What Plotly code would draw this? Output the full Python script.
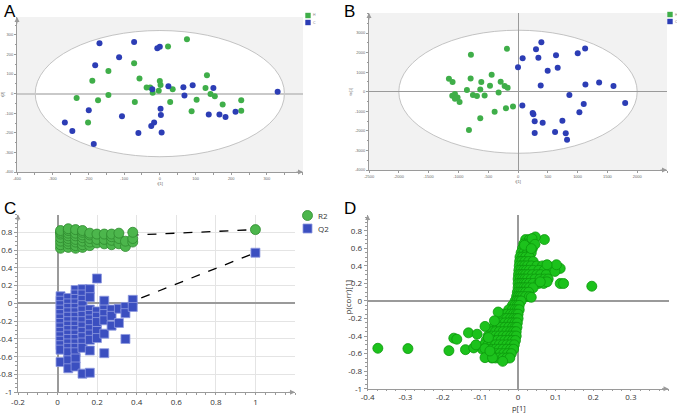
import plotly.graph_objects as go

W, H = 677, 414

# ---------------- Panel A (PCA-like score plot) ----------------
a_green_x = [76, 23, -72, -144, -57, -189, 132, 0, 2, -37, -27, -3, -20, 36, 128, 142, 154, 103, 29, -233, -173, -144, -70, 176, 228, 228, 89, -201]
a_green_y = [278, 240, 155, 116, 77, 66, 94, 65, 44, 31, 31, 15, 5, 22, 29, -2, -14, -31, -43, -22, -34, -7, -43, -56, -34, -87, -90, -148]
a_blue_x = [-169, -72, -7, 0, -114, -181, -21, 24, 66, 92, 150, 69, 330, 2, 3, -199, -106, 137, 167, 184, 212, -266, -245, -16, -24, -60, 5, -185]
a_blue_y = [257, 264, 232, 239, 186, 145, 22, 37, 32, 43, 29, -10, 9, -77, -109, -85, -116, -107, -107, -119, -92, -148, -191, -148, -165, -201, -198, -257]
a_ellipse = [349, 322]
a_xticks = [-400, -300, -200, -100, 0, 100, 200, 300]
a_yticks = [-400, -300, -200, -100, 0, 100, 200, 300]

# ---------------- Panel B (OPLS-DA score plot) ----------------
b_green_x = [-185, -790, -442, -1159, -1098, -795, -616, -291, -470, -224, -174, -633, -857, -325, -1058, -1103, -1014, -1058, -980, -756, -689, -560, -84, -202, -392, -633, -823]
b_green_y = [2193, 1887, 867, 663, 493, 680, 493, 510, 306, 289, 204, 119, 85, -34, -119, -204, -289, -357, -527, -170, -221, -187, -748, -850, -1020, -1360, -1955]
b_blue_x = [392, 302, 1126, 1002, 78, 342, 638, 0, 498, 666, 381, 1131, 1361, 1602, 862, 1798, 1103, 1030, 73, 246, 258, 280, 414, 745, 280, 622, 801, 823]
b_blue_y = [2533, 2176, 2210, 1972, 1717, 1734, 1870, 1258, 1071, 1224, 323, 374, 476, 289, -170, -578, -629, -1054, -697, -1088, -1156, -1513, -1581, -1479, -2108, -2057, -2125, -2448]
b_ellipse = [2000, 3145]
b_xticks = [-2500, -2000, -1500, -1000, -500, 0, 500, 1000, 1500, 2000]
b_yticks = [-4000, -3000, -2000, -1000, 0, 1000, 2000, 3000]

group_labels = ["H", "C"]

# ---------------- Panel C (permutation test) ----------------
perm_cols = [0.015, 0.054, 0.091, 0.126, 0.163, 0.199, 0.236, 0.273, 0.310, 0.343, 0.380]
r2_by_col = [
    [0.62, 0.66, 0.70, 0.74, 0.78, 0.80, 0.82],
    [0.63, 0.67, 0.70, 0.73, 0.76, 0.79, 0.82, 0.84],
    [0.62, 0.65, 0.69, 0.72, 0.76, 0.79, 0.83],
    [0.63, 0.66, 0.70, 0.74, 0.77, 0.80, 0.82],
    [0.65, 0.69, 0.73, 0.77, 0.79],
    [0.68, 0.72, 0.78],
    [0.67, 0.72, 0.78],
    [0.66, 0.71, 0.75, 0.78],
    [0.67, 0.73, 0.79],
    [0.64, 0.70],
    [0.69, 0.73, 0.80],
]
q2_by_col = [
    [0.08, 0.03, -0.02, -0.07, -0.12, -0.17, -0.22, -0.27, -0.32, -0.37, -0.42, -0.47, -0.52, -0.66],
    [0.06, 0.0, -0.05, -0.10, -0.15, -0.20, -0.25, -0.30, -0.35, -0.40, -0.45, -0.50, -0.55, -0.64, -0.73],
    [0.15, 0.10, 0.05, 0.0, -0.05, -0.10, -0.15, -0.20, -0.25, -0.30, -0.35, -0.40, -0.45, -0.50, -0.55, -0.62, -0.71],
    [0.16, 0.10, 0.04, -0.02, -0.08, -0.14, -0.20, -0.26, -0.32, -0.38, -0.44, -0.50, -0.79],
    [0.16, 0.07, -0.07, -0.13, -0.18, -0.23, -0.29, -0.35, -0.41, -0.53, -0.78],
    [0.28, -0.09, -0.15, -0.21, -0.31, -0.39],
    [0.03, -0.07, -0.12, -0.19, -0.34, -0.56],
    [-0.07, -0.14, -0.25],
    [-0.06, -0.22],
    [-0.04, -0.11, -0.40],
    [0.04, -0.04],
]
orig_x = 1.0
orig_r2 = 0.83
orig_q2 = 0.57
r2_intercept = 0.73
q2_intercept = -0.31
c_xticks = [-0.2, 0, 0.2, 0.4, 0.6, 0.8, 1]
c_yticks = [-1, -0.8, -0.6, -0.4, -0.2, 0, 0.2, 0.4, 0.6, 0.8]
c_legend = ["R2", "Q2"]

# ---------------- Panel D (S-plot) ----------------
d_outlier_x = [-0.373, -0.293, -0.184, -0.171, -0.163, -0.140, -0.132, -0.109, -0.118, -0.112, -0.088, -0.088, -0.088, -0.079, -0.053, -0.063, -0.041, -0.068, -0.075,
               0.196, 0.112, 0.121, 0.112, 0.098, 0.070, 0.046, 0.037, 0.045, 0.017, 0.102, 0.077, 0.077, 0.059, 0.035, 0.035]
d_outlier_y = [-0.539, -0.543, -0.566, -0.424, -0.436, -0.555, -0.363, -0.379, -0.535, -0.50, -0.29, -0.543, -0.646, -0.417, -0.126, -0.226, -0.688, -0.646, -0.57,
               0.168, 0.199, 0.199, 0.371, 0.337, 0.70, 0.73, 0.711, 0.646, 0.635, 0.413, 0.413, 0.218, 0.218, 0.042, 0.597]
d_body_y = [0.70, 0.65, 0.60, 0.55, 0.50, 0.45, 0.40, 0.35, 0.30, 0.25, 0.20, 0.15, 0.10, 0.05, 0.0,
            -0.05, -0.10, -0.15, -0.20, -0.25, -0.30, -0.35, -0.40, -0.45, -0.50, -0.55, -0.60, -0.65]
d_body_x = [
    [0.02, 0.03],
    [0.015, 0.025, 0.035],
    [0.012, 0.02, 0.03, 0.038],
    [0.008, 0.015, 0.025, 0.035],
    [0.005, 0.012, 0.02, 0.03],
    [0.004, 0.01, 0.018, 0.028, 0.04],
    [0.003, 0.01, 0.017, 0.025, 0.035, 0.05, 0.065, 0.08],
    [0.002, 0.008, 0.015, 0.022, 0.03, 0.04, 0.055, 0.07, 0.085],
    [0.001, 0.007, 0.013, 0.02, 0.028, 0.038, 0.05, 0.06, 0.075],
    [0.0, 0.006, 0.012, 0.018, 0.025, 0.035, 0.045, 0.058, 0.07, 0.08],
    [0.0, 0.005, 0.01, 0.016, 0.022, 0.03, 0.04, 0.055, 0.068],
    [0.0, 0.004, 0.009, 0.015, 0.022, 0.03, 0.04],
    [-0.002, 0.003, 0.008, 0.013, 0.02, 0.028],
    [-0.004, 0.001, 0.006, 0.012, 0.02, 0.03],
    [-0.008, -0.003, 0.002, 0.008],
    [-0.015, -0.008, -0.002, 0.003],
    [-0.025, -0.015, -0.008, -0.002, 0.003],
    [-0.04, -0.03, -0.02, -0.012, -0.005, 0.0],
    [-0.05, -0.04, -0.03, -0.02, -0.012, -0.005, 0.0],
    [-0.055, -0.045, -0.035, -0.025, -0.016, -0.008, -0.002],
    [-0.065, -0.055, -0.045, -0.035, -0.025, -0.015, -0.008, -0.003],
    [-0.07, -0.06, -0.05, -0.04, -0.03, -0.02, -0.012, -0.005],
    [-0.08, -0.07, -0.06, -0.05, -0.04, -0.03, -0.02, -0.012, -0.005],
    [-0.085, -0.075, -0.065, -0.055, -0.045, -0.035, -0.025, -0.015, -0.007],
    [-0.09, -0.08, -0.07, -0.06, -0.05, -0.04, -0.03, -0.02, -0.01],
    [-0.095, -0.085, -0.072, -0.06, -0.05, -0.04, -0.03, -0.02, -0.012],
    [-0.08, -0.07, -0.058, -0.048, -0.038, -0.028, -0.018],
    [-0.07, -0.06, -0.05, -0.04, -0.03, -0.022],
]
d_xticks = [-0.4, -0.3, -0.2, -0.1, 0, 0.1, 0.2, 0.3]
d_yticks = [-1, -0.8, -0.6, -0.4, -0.2, 0, 0.2, 0.4, 0.6, 0.8]

# ------------------------------------------------------------------
GREEN_AB = "#3fae49"
BLUE_AB = "#2c3db5"
GRAY = "#9a9a9a"
R2_FILL, R2_EDGE = "#4cb64c", "#2f8a2f"
Q2_FILL, Q2_EDGE = "#3b4fc0", "#8f9be0"


def fmt(v):
    return "%g" % v


def dom_x(p0, p1):
    return [p0 / W, p1 / W]


def dom_y(p_top, p_bot):
    return [1 - p_bot / H, 1 - p_top / H]


fig = go.Figure()

# Panel A traces
fig.add_trace(go.Scatter(x=a_green_x, y=a_green_y, mode="markers", xaxis="x", yaxis="y",
                         marker=dict(color=GREEN_AB, size=6), showlegend=False))
fig.add_trace(go.Scatter(x=a_blue_x, y=a_blue_y, mode="markers", xaxis="x", yaxis="y",
                         marker=dict(color=BLUE_AB, size=6), showlegend=False))

# Panel B traces
fig.add_trace(go.Scatter(x=b_green_x, y=b_green_y, mode="markers", xaxis="x2", yaxis="y2",
                         marker=dict(color=GREEN_AB, size=6), showlegend=False))
fig.add_trace(go.Scatter(x=b_blue_x, y=b_blue_y, mode="markers", xaxis="x2", yaxis="y2",
                         marker=dict(color=BLUE_AB, size=6), showlegend=False))

# Panel C traces
fig.add_trace(go.Scatter(x=[0, orig_x], y=[r2_intercept, orig_r2], mode="lines", xaxis="x3", yaxis="y3",
                         line=dict(color="black", dash="dash", width=1.3), showlegend=False))
fig.add_trace(go.Scatter(x=[0, orig_x], y=[q2_intercept, orig_q2], mode="lines", xaxis="x3", yaxis="y3",
                         line=dict(color="black", dash="dash", width=1.3), showlegend=False))
r2_x, r2_y, q2_x, q2_y = [], [], [], []
for cx, vals in zip(perm_cols, r2_by_col):
    r2_x += [cx] * len(vals)
    r2_y += vals
for cx, vals in zip(perm_cols, q2_by_col):
    q2_x += [cx] * len(vals)
    q2_y += vals
fig.add_trace(go.Scatter(x=q2_x + [orig_x], y=q2_y + [orig_q2], mode="markers", xaxis="x3", yaxis="y3",
                         showlegend=False,
                         marker=dict(symbol="square", size=9, color=Q2_FILL, line=dict(color=Q2_EDGE, width=0.8))))
fig.add_trace(go.Scatter(x=r2_x + [orig_x], y=r2_y + [orig_r2], mode="markers", xaxis="x3", yaxis="y3",
                         showlegend=False,
                         marker=dict(symbol="circle", size=10, color=R2_FILL, line=dict(color=R2_EDGE, width=0.8))))

# Panel D traces
dx, dy = [], []
for yv, xs in zip(d_body_y, d_body_x):
    dx += xs
    dy += [yv] * len(xs)
fig.add_trace(go.Scatter(x=dx + d_outlier_x, y=dy + d_outlier_y, mode="markers", xaxis="x4", yaxis="y4",
                         marker=dict(size=10, color="#1cc21c", line=dict(color="#0c980c", width=0.8)),
                         showlegend=False))

tiny = dict(size=4, color="#666", family="Liberation Sans")
small = dict(size=8, color="#333", family="Open Sans")

common_ab = dict(showgrid=False, showline=True, linecolor=GRAY, linewidth=1, ticks="outside",
                 ticklen=2, tickcolor=GRAY, tickfont=tiny, mirror=False, automargin=False,
                 minor=dict(ticks="outside", ticklen=1.5, tickcolor=GRAY))
common_cd = dict(zeroline=True, zerolinecolor=GRAY, showline=True, linecolor=GRAY, automargin=False,
                 ticks="outside", tickcolor=GRAY, tickfont=small)

layout = dict(
    width=W, height=H, margin=dict(l=0, r=0, t=0, b=0, autoexpand=False),
    paper_bgcolor="white", plot_bgcolor="white", showlegend=False,
    font=dict(family="Liberation Sans"),
    xaxis=dict(domain=dom_x(17, 303), range=[-400, 401], tickvals=a_xticks,
               ticktext=[fmt(v) for v in a_xticks], zeroline=False, anchor="y",
               title=dict(text="t[1]", font=tiny, standoff=2), **common_ab),
    yaxis=dict(domain=dom_y(17, 172), range=[-400, 391], tickvals=a_yticks,
               ticktext=[fmt(v) for v in a_yticks], zeroline=True, zerolinecolor="#c9c9c9",
               zerolinewidth=1.5, anchor="x",
               title=dict(text="t[2]", font=tiny, standoff=2), **common_ab),
    xaxis2=dict(domain=dom_x(369, 667), range=[-2500, 2500], tickvals=b_xticks,
                ticktext=[fmt(v) for v in b_xticks], zeroline=True, zerolinecolor=GRAY,
                zerolinewidth=1, anchor="y2",
                title=dict(text="t[1]", font=tiny, standoff=2), **common_ab),
    yaxis2=dict(domain=dom_y(13, 170), range=[-4000, 4025], tickvals=b_yticks,
                ticktext=[fmt(v) for v in b_yticks], zeroline=True, zerolinecolor=GRAY,
                zerolinewidth=1, anchor="x2",
                title=dict(text="to[1]", font=tiny, standoff=2), **common_ab),
    xaxis3=dict(domain=dom_x(18, 295), range=[-0.2, 1.2], tickvals=c_xticks,
                ticktext=[fmt(v) for v in c_xticks], showgrid=True, gridcolor="#e4e4e4", anchor="y3",
                ticklen=2, minor=dict(ticks="outside", ticklen=2, tickcolor=GRAY, dtick=0.05, showgrid=False),
                **common_cd),
    yaxis3=dict(domain=dom_y(214.5, 392.3), range=[-1, 1.0], tickvals=c_yticks,
                ticktext=[fmt(v) for v in c_yticks], showgrid=True, gridcolor="#e4e4e4", anchor="x3",
                ticklen=3, minor=dict(ticks="outside", ticklen=2, tickcolor=GRAY, dtick=0.05, showgrid=False),
                **common_cd),
    xaxis4=dict(domain=dom_x(367.7, 668.5), range=[-0.4, 0.4], tickvals=d_xticks,
                ticktext=[fmt(v) for v in d_xticks], showgrid=False, anchor="y4", ticklen=1,
                minor=dict(ticks="outside", ticklen=1.5, tickcolor=GRAY, dtick=0.025), **common_cd),
    yaxis4=dict(domain=dom_y(215, 388.7), range=[-1, 0.98], tickvals=d_yticks,
                ticktext=[fmt(v) for v in d_yticks], showgrid=False, anchor="x4", ticklen=3,
                minor=dict(ticks="outside", ticklen=2, tickcolor=GRAY, dtick=0.05), **common_cd),
)
fig.update_layout(**layout)

shapes = []
for xr, yr, ell in [("x", "y", a_ellipse), ("x2", "y2", b_ellipse)]:
    shapes.append(dict(type="rect", xref=xr + " domain", yref=yr + " domain", x0=0, x1=1, y0=0, y1=1,
                       fillcolor="#f2f2f2", line=dict(width=0), layer="below"))
    shapes.append(dict(type="circle", xref=xr, yref=yr, x0=-ell[0], x1=ell[0], y0=-ell[1], y1=ell[1],
                       fillcolor="white", line=dict(color="#b5b5b5", width=0.8), layer="below"))


def px_rect(cx, cy, half, kind, fill, edge, width=0.8):
    return dict(type=kind, xref="paper", yref="paper",
                x0=(cx - half) / W, x1=(cx + half) / W, y0=1 - (cy + half) / H, y1=1 - (cy - half) / H,
                fillcolor=fill, line=dict(color=edge, width=width))


ann = []
# group legends for A and B (small squares + tiny labels)
for lx, ly0 in [(308, 15.5), (670, 14.5)]:
    for i, (col, lab) in enumerate(zip([GREEN_AB, BLUE_AB], group_labels)):
        cy = ly0 + i * 7
        shapes.append(px_rect(lx, cy, 2.7, "rect", col, col, 0))
        ann.append(dict(text=lab, x=(lx + 3.0) / W, y=1 - cy / H, xref="paper", yref="paper",
                        xanchor="left", yanchor="middle", showarrow=False, font=dict(size=3.5, color="#888")))
# legend for C
shapes.append(px_rect(307.5, 215.5, 5, "circle", R2_FILL, R2_EDGE))
shapes.append(px_rect(307.5, 228.5, 4.5, "rect", Q2_FILL, Q2_EDGE))
for lab, cy in zip(c_legend, [215.5, 228.5]):
    ann.append(dict(text=lab, x=316 / W, y=1 - cy / H, xref="paper", yref="paper", xanchor="left",
                    yanchor="middle", showarrow=False, font=dict(size=8, color="#333", family="Open Sans")))
fig.update_layout(shapes=shapes)

for lab, px, py in [("A", 2, 0), ("B", 342, 0), ("C", 2, 197), ("D", 342, 197)]:
    ann.append(dict(text=lab, x=px / W, y=1 - py / H, xref="paper", yref="paper", xanchor="left",
                    yanchor="top", showarrow=False, font=dict(size=17, color="black", family="Liberation Sans")))
# axis titles for D
ann.append(dict(text="p[1]", x=519 / W, y=0, xref="paper", yref="paper", xanchor="center",
                yanchor="bottom", showarrow=False, borderpad=0,
                font=dict(size=7.5, color="#333", family="Open Sans")))
ann.append(dict(text="p(corr)[1]", x=346.5 / W, y=1 - 297 / H, xref="paper", yref="paper", xanchor="center",
                yanchor="middle", textangle=-90, showarrow=False,
                font=dict(size=8, color="#333", family="Open Sans")))
# axis arrows
for xr, yr, xmax, ymin, xmin, ymax in [("x", "y", 401, -400, -400, 391), ("x2", "y2", 2500, -4000, -2500, 4025),
                                       ("x3", "y3", 1.2, -1, -0.2, 1.0), ("x4", "y4", 0.4, -1, -0.4, 0.98)]:
    ann.append(dict(x=xmax, y=ymin, xref=xr, yref=yr, ax=-8, ay=0, text="", showarrow=True,
                    arrowhead=2, arrowsize=1, arrowwidth=1, arrowcolor=GRAY))
    ann.append(dict(x=xmin, y=ymax, xref=xr, yref=yr, ax=0, ay=8, text="", showarrow=True,
                    arrowhead=2, arrowsize=1, arrowwidth=1, arrowcolor=GRAY))
fig.update_layout(annotations=ann)

fig.write_html("out.html", config={"responsive": False, "displayModeBar": False},
               post_script="document.body.style.margin='0';document.body.style.padding='0';")
